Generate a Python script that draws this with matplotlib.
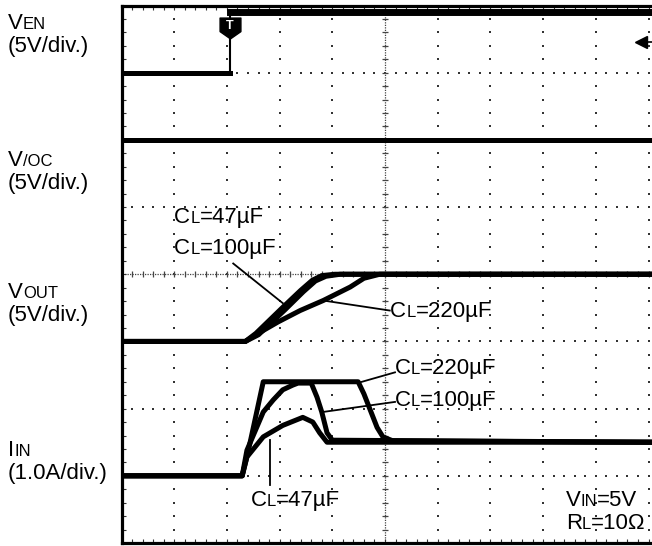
import numpy as np
import matplotlib
matplotlib.use("Agg")
import matplotlib.pyplot as plt
from matplotlib.path import Path

plt.rcParams['font.family'] = ['Liberation Sans', 'DejaVu Sans']

# --- data, in scope divisions (x: 0..10 time div, y: 0..8 vertical div) ---
ven_x = [0, 2.05, 2.05, 10.1]
ven_y = [7.0, 7.0, 7.9, 7.9]

voc_x = [0, 10.1]
voc_y = [6.0, 6.0]

vout47_x = [0, 2.35, 2.55, 3.05, 3.4, 3.62, 3.8, 4.05, 10.1]
vout47_y = [3.0, 3.0, 3.12, 3.5, 3.76, 3.91, 3.98, 4.0, 4.0]
vout100_x = [0, 2.35, 2.6, 3.1, 3.45, 3.68, 3.88, 4.15, 10.1]
vout100_y = [3.0, 3.0, 3.1, 3.47, 3.74, 3.9, 3.97, 4.0, 4.0]
vout220_x = [0, 2.35, 2.55, 2.97, 3.39, 3.83, 4.34, 4.6, 4.9, 10.1]
vout220_y = [3.0, 3.0, 3.1, 3.29, 3.46, 3.61, 3.81, 3.94, 4.0, 4.0]

iin47_x = [0, 2.29, 2.38, 2.69, 3.06, 3.44, 3.63, 3.76, 3.9, 10.1]
iin47_y = [1.0, 1.0, 1.28, 1.58, 1.75, 1.87, 1.8, 1.64, 1.5, 1.5]
iin100_x = [0, 2.29, 2.38, 2.69, 2.88, 3.06, 3.25, 3.35, 3.6, 3.71, 3.8, 3.9, 4.0, 10.1]
iin100_y = [1.0, 1.0, 1.38, 1.95, 2.13, 2.28, 2.35, 2.38, 2.38, 2.17, 1.95, 1.64, 1.53, 1.5]
iin220_x = [0, 2.29, 2.4, 2.69, 4.49, 4.6, 4.85, 4.96, 5.15, 10.1]
iin220_y = [1.0, 1.0, 1.35, 2.4, 2.4, 2.22, 1.72, 1.58, 1.52, 1.5]

# annotation labels: (big part, small part, rest), text anchor, leader line
cl_labels = [
    ("C", "L", "=47\u00b5F", (1.0, 4.85), None),
    ("C", "L", "=100\u00b5F", (1.0, 4.39), [(2.12, 3.06), (4.16, 3.57)]),
    ("C", "L", "=220\u00b5F", (5.1, 3.46), [(3.82, 5.09), (3.61, 3.46)]),
    ("C", "L", "=220\u00b5F", (5.19, 2.6), [(4.52, 5.19), (2.39, 2.54)]),
    ("C", "L", "=100\u00b5F", (5.19, 2.13), [(3.82, 5.19), (1.95, 2.1)]),
    ("C", "L", "=47\u00b5F", (2.45, 0.64), [(2.82, 2.82), (1.53, 0.86)]),
]

W, H = 652, 546
fig = plt.figure(figsize=(W / 100, H / 100), dpi=100)
ax = fig.add_axes([121.5 / W, 3 / H, (W - 121.5) / W, 537.5 / H])
ax.set_xlim(0, 530.5 / 52.7)
ax.set_ylim(0, 8)

for s in ['left', 'top', 'bottom']:
    ax.spines[s].set_linewidth(2.3)
ax.spines['right'].set_visible(False)
ax.set_xticks(range(0, 11))
ax.set_yticks(range(0, 9))
ax.set_xticks(np.arange(0, 10.05, 0.2), minor=True)
ax.set_yticks(np.arange(0, 8.05, 0.2), minor=True)
ax.tick_params(which='both', direction='in', length=3, width=0.8, color='#333',
               top=True, bottom=True, left=True, right=False,
               labelbottom=False, labelleft=False)

# scope graticule: dotted lines, centre lines with small ticks
dot_y = np.arange(0, 8.01, 0.2)
dot_x = np.arange(0, 10.1, 0.2)
for gx in range(1, 11):
    if gx == 5:
        continue
    ax.scatter(np.full(len(dot_y), gx), dot_y, s=1.6, marker='s', color='#333', linewidths=0, zorder=1)
for gy in range(1, 8):
    if gy == 4:
        continue
    ax.scatter(dot_x, np.full(len(dot_x), gy), s=1.6, marker='s', color='#333', linewidths=0, zorder=1)
ax.axvline(5, color='#444', lw=0.9, ls=(0, (1, 1)), zorder=1)
ax.axhline(4, color='#444', lw=0.9, ls=(0, (1, 1)), zorder=1)
ax.plot(np.full(len(dot_y), 5), dot_y, ls='none', marker='_', ms=4, mew=0.9, color='#444', zorder=1)
ax.plot(dot_x, np.full(len(dot_x), 4), ls='none', marker='|', ms=4, mew=0.9, color='#444', zorder=1)

# traces
tr = dict(color='black', lw=3.6, solid_joinstyle='round', zorder=3)
ax.plot(ven_x[:2], ven_y[:2], **tr)
ax.plot(ven_x[1:3], ven_y[1:3], color='black', lw=1.5, zorder=3)
ax.plot(ven_x[2:], ven_y[2:], color='black', lw=5, zorder=3)
ax.plot(voc_x, voc_y, **tr)
ax.plot(vout47_x, vout47_y, **tr)
ax.plot(vout100_x, vout100_y, **tr)
ax.plot(vout220_x, vout220_y, **tr)
ax.plot(iin47_x, iin47_y, **tr)
ax.plot(iin100_x, iin100_y, **tr)
ax.plot(iin220_x, iin220_y, **tr)

# trigger marker and level arrow
shield = Path([(-1, 1), (1, 1), (1, -0.3), (0, -1), (-1, -0.3), (-1, 1)],
              [Path.MOVETO, Path.LINETO, Path.LINETO, Path.LINETO, Path.LINETO, Path.CLOSEPOLY])
ax.plot([2.05], [7.67], marker=shield, ms=15, color='black', zorder=5)
ax.text(2.05, 7.7, "T", color='white', fontsize=9, fontweight='bold', ha='center', va='center', zorder=6)
ax.plot([9.86], [7.46], marker='<', ms=8, color='black', zorder=5, clip_on=False)
ax.plot([9.86, 10.07], [7.46, 7.46], color='black', lw=1.2, zorder=5)

renderer = fig.canvas.get_renderer()


def mixed(x_px, y_px, parts):
    # draw text pieces one after another on a shared baseline (display px)
    for s, size in parts:
        t = fig.text(x_px / W, y_px / H, s, fontsize=size, ha='left', va='baseline')
        x_px = t.get_window_extent(renderer).x1


BIG, SMALL = 16, 12

# left-hand channel labels (baseline positions in px from bottom)
mixed(8, H - 29, [("V", BIG), ("EN", SMALL)])
mixed(8, H - 52, [("(5V/div.)", BIG)])
mixed(8, H - 166, [("V", BIG), ("/OC", SMALL)])
mixed(8, H - 189, [("(5V/div.)", BIG)])
mixed(8, H - 298, [("V", BIG), ("OUT", SMALL)])
mixed(8, H - 321, [("(5V/div.)", BIG)])
mixed(8, H - 456, [("I", BIG), ("IN", SMALL)])
mixed(8, H - 479, [("(1.0A/div.)", BIG)])

for big, small, rest, (tx, ty), leader in cl_labels:
    if leader is not None:
        ax.plot(leader[0], leader[1], color='black', lw=1.3, zorder=4)
    px, py = ax.transData.transform((tx, ty))
    mixed(px, py - 6, [(big, BIG), (small, SMALL), (rest, BIG)])

px, py = ax.transData.transform((8.43, 0.64))
mixed(px, py - 6, [("V", BIG), ("IN", SMALL), ("=5V", BIG)])
px, py = ax.transData.transform((8.43, 0.3))
mixed(px, py - 6, [("R", BIG), ("L", SMALL), ("=10\u03a9", BIG)])

fig.savefig("out.png", dpi=100)
